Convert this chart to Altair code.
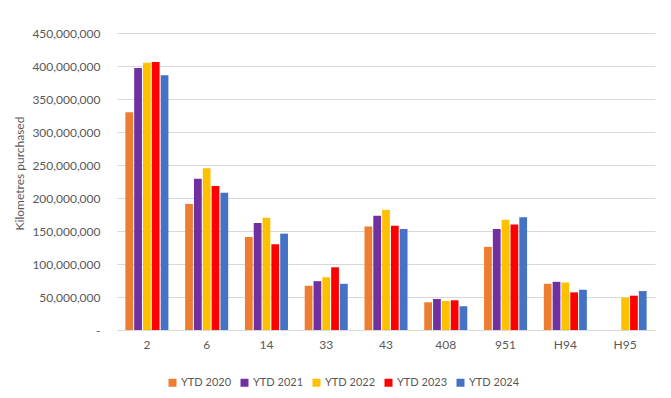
import altair as alt
import pandas as pd

routes = ["2", "6", "14", "33", "43", "408", "951", "H94", "H95"]
series = ["YTD 2020", "YTD 2021", "YTD 2022", "YTD 2023", "YTD 2024"]
colors = ["#ED7D31", "#7030A0", "#FFC000", "#FF0000", "#4472C4"]

ytd_2020 = [330e6, 191e6, 141e6, 67e6, 157e6, 42e6, 126e6, 70e6, None]
ytd_2021 = [397e6, 229e6, 162e6, 74e6, 173e6, 47e6, 153e6, 73e6, None]
ytd_2022 = [405e6, 245e6, 170e6, 80e6, 182e6, 44e6, 167e6, 72e6, 49e6]
ytd_2023 = [406e6, 218e6, 130e6, 95e6, 158e6, 45e6, 160e6, 57e6, 52e6]
ytd_2024 = [386e6, 208e6, 146e6, 70e6, 153e6, 36e6, 171e6, 61e6, 59e6]

rows = []
for name, vals in zip(series, [ytd_2020, ytd_2021, ytd_2022, ytd_2023, ytd_2024]):
    for r, v in zip(routes, vals):
        if v is not None:
            rows.append({"route": r, "series": name, "km": v})
df = pd.DataFrame(rows)

FONT = "Lato"
GREY = "#595959"

chart = alt.Chart(df).mark_bar().encode(
    x=alt.X("route:N", sort=routes, title=None,
            scale=alt.Scale(paddingInner=0.28, paddingOuter=0.14),
            axis=alt.Axis(labelAngle=0, labelFontSize=12, labelColor=GREY, labelFont=FONT,
                          ticks=False, domainColor="#d9d9d9", labelPadding=9)),
    xOffset=alt.XOffset("series:N", sort=series, scale=alt.Scale(paddingInner=0.12)),
    y=alt.Y("km:Q", title="Kilometres purchased",
            scale=alt.Scale(domain=[0, 450000000], nice=False),
            axis=alt.Axis(values=[i * 50000000 for i in range(10)],
                          labelExpr="datum.value == 0 ? '-' : format(datum.value, ',')",
                          labelFontSize=12, labelColor=GREY, labelFont=FONT,
                          labelPadding=17, ticks=False, domain=False,
                          gridColor="#d9d9d9", titleFont=FONT, titleFontSize=12,
                          titleColor=GREY, titleFontWeight="normal",
                          titleX=-91, titleY=140)),
    color=alt.Color("series:N", sort=series,
                    scale=alt.Scale(domain=series, range=colors),
                    legend=alt.Legend(title=None, orient="none", direction="horizontal",
                                      legendX=50, legendY=344, symbolType="square",
                                      symbolSize=64, symbolStrokeWidth=0,
                                      labelFontSize=11, labelColor=GREY, labelFont=FONT,
                                      labelOffset=3, columnPadding=7)),
).properties(
    width=538, height=297,
    autosize=alt.AutoSizeParams(type="none"),
    padding={"left": 109, "top": 25, "right": 8, "bottom": 60},
).configure_view(stroke=None)

chart.save("out.html", embed_options={"renderer": "svg", "actions": False})
